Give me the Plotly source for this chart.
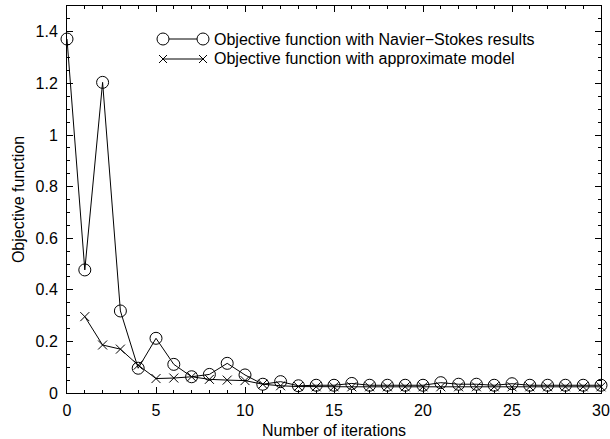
import plotly.graph_objects as go

# Objective function history over the optimisation iterations
iter_ns = list(range(0, 31))
obj_ns = [1.372, 0.477, 1.204, 0.318, 0.096, 0.212, 0.111, 0.063, 0.072, 0.115,
          0.070, 0.034, 0.044, 0.028, 0.030, 0.030, 0.037, 0.030, 0.030, 0.030,
          0.030, 0.040, 0.034, 0.034, 0.030, 0.036, 0.030, 0.030, 0.030, 0.030,
          0.030]

iter_approx = list(range(1, 31))
obj_approx = [0.296, 0.186, 0.170, 0.108, 0.056, 0.058, 0.063, 0.053, 0.050, 0.048,
              0.034, 0.028, 0.025, 0.024, 0.024, 0.024, 0.024, 0.024, 0.024, 0.024,
              0.024, 0.024, 0.024, 0.024, 0.024, 0.024, 0.024, 0.024, 0.024, 0.024]

legend_labels = ["Objective function with Navier\u2212Stokes results",
                 "Objective function with approximate model"]

FONT = "Liberation Sans, Arial, Helvetica, sans-serif"
FS = 16

fig = go.Figure()

fig.add_trace(go.Scatter(
    x=iter_ns, y=obj_ns, mode="lines+markers",
    line=dict(color="black", width=1),
    marker=dict(symbol="circle-open", size=12, color="black", line=dict(width=1)),
    cliponaxis=False, showlegend=False,
))
fig.add_trace(go.Scatter(
    x=iter_approx, y=obj_approx, mode="lines+markers",
    line=dict(color="black", width=1),
    marker=dict(symbol="x-thin-open", size=9, color="black", line=dict(width=1, color="black")),
    cliponaxis=False, showlegend=False,
))

# Plot frame in pixels
L = 67
R = 601
T = 6
B = 393
W, H = 610, 439


def px(x):
    return (x - L) / (R - L)


def py(y):
    return (B - y) / (B - T)


# Hand-built legend: a sample line with a marker at each end, then the label
shapes = []
annotations = []
rows = [39, 59]
x0s, x1s = 163, 203
for i, (yy, label) in enumerate(zip(rows, legend_labels)):
    shapes.append(dict(type="line", xref="paper", yref="paper",
                       x0=px(x0s), x1=px(x1s), y0=py(yy), y1=py(yy),
                       line=dict(color="black", width=1)))
    for xc in (x0s, x1s):
        if i == 0:
            shapes.append(dict(type="circle", xref="paper", yref="paper",
                               xsizemode="pixel", ysizemode="pixel",
                               xanchor=px(xc), yanchor=py(yy),
                               x0=-6, x1=6, y0=-6, y1=6,
                               line=dict(color="black", width=1),
                               fillcolor="white"))
        else:
            for d in (1, -1):
                shapes.append(dict(type="line", xref="paper", yref="paper",
                                   xsizemode="pixel", ysizemode="pixel",
                                   xanchor=px(xc), yanchor=py(yy),
                                   x0=-4, x1=4, y0=-4 * d, y1=4 * d,
                                   line=dict(color="black", width=1)))
    annotations.append(dict(xref="paper", yref="paper", x=px(x1s + 9), y=py(yy),
                            xanchor="left", yanchor="middle", text=label,
                            showarrow=False, font=dict(family=FONT, size=FS, color="black")))

axis_common = dict(
    showline=True, linecolor="black", linewidth=1, mirror="allticks",
    ticks="inside", ticklen=6, tickwidth=1, tickcolor="black",
    showgrid=False, zeroline=False, automargin=False,
    tickfont=dict(family=FONT, size=FS, color="black"),
)

fig.update_layout(
    width=W, height=H,
    margin=dict(l=L, r=W - R, t=T, b=H - B, autoexpand=False),
    paper_bgcolor="white", plot_bgcolor="white",
    font=dict(family=FONT, size=FS, color="black"),
    xaxis=dict(range=[0, 30], dtick=5, tick0=0, ticklabelstandoff=3,
               minor=dict(dtick=1, ticks="inside", ticklen=3, tickcolor="black", showgrid=False),
               title=dict(text="Number of iterations", standoff=7,
                          font=dict(family=FONT, size=FS, color="black")),
               **axis_common),
    yaxis=dict(range=[0, 1.5], dtick=0.2, tick0=0, ticklabelstandoff=5,
               minor=dict(dtick=0.05, ticks="inside", ticklen=3, tickcolor="black", showgrid=False),
               title=dict(text="Objective function", standoff=6,
                          font=dict(family=FONT, size=FS, color="black")),
               **axis_common),
    shapes=shapes,
    annotations=annotations,
)

fig.write_html("out.html")
